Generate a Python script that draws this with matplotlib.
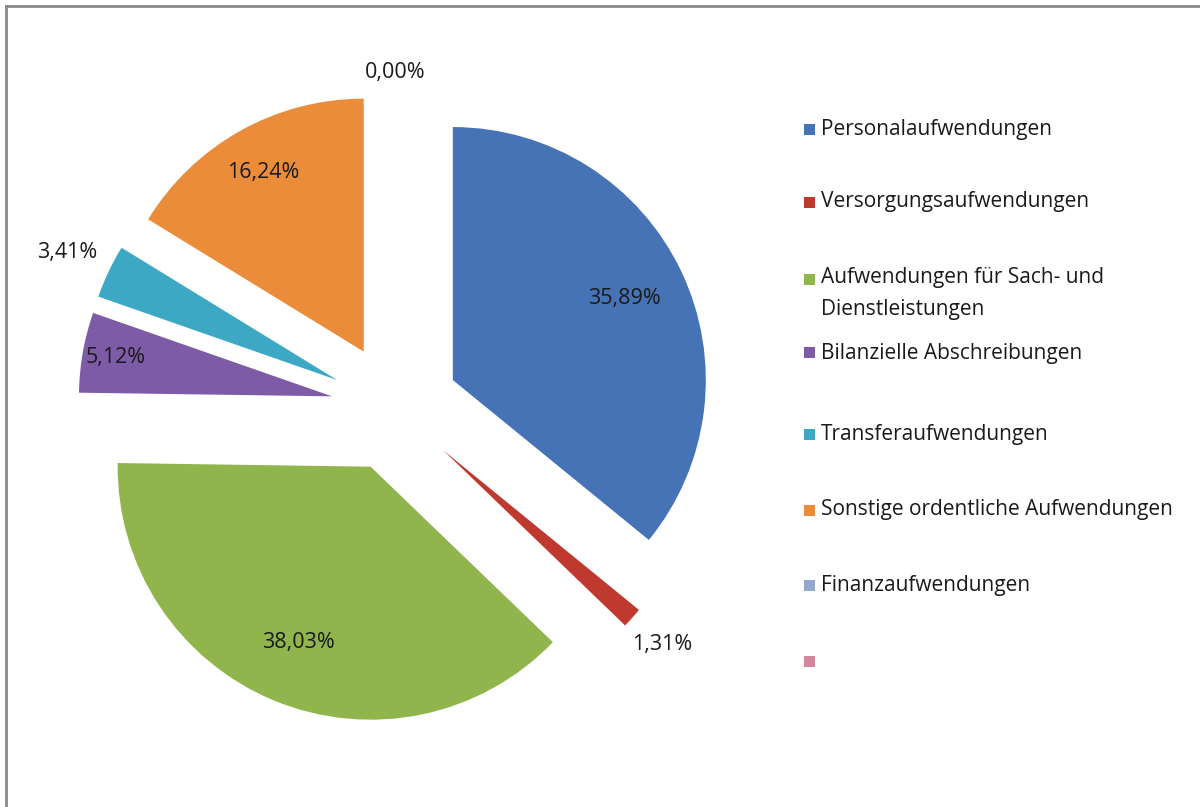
import matplotlib
matplotlib.use("Agg")
import matplotlib.pyplot as plt
import matplotlib.patches as mpatches
import numpy as np

categories = [
    "Personalaufwendungen",
    "Versorgungsaufwendungen",
    "Aufwendungen für Sach- und\nDienstleistungen",
    "Bilanzielle Abschreibungen",
    "Transferaufwendungen",
    "Sonstige ordentliche Aufwendungen",
    "Finanzaufwendungen",
    "",
]
values = [35.89, 1.31, 38.03, 5.12, 3.41, 16.24, 0.00, 0.00]
pct_labels = ["35,89%", "1,31%", "38,03%", "5,12%", "3,41%", "16,24%", "0,00%", ""]
colors = ["#4673B5", "#C0392F", "#8FB54C", "#7D5BA6", "#3DA8C4", "#EA8C3A",
          "#95A7CC", "#D3869C"]

plt.rcParams['font.family'] = ['Open Sans', 'DejaVu Sans']

W, H = 1200, 807
fig = plt.figure(figsize=(W / 100, H / 100), dpi=100)
ax = fig.add_axes([0, 0, 1, 1])

cx, cy = 395, H - 407.5
radius = 253
explode = [64] * len(values)

wedges, _ = ax.pie(values, colors=colors, startangle=90, counterclock=False,
                   radius=radius, center=(cx, cy), explode=explode,
                   wedgeprops=dict(linewidth=0))
ax.set_xlim(0, W)
ax.set_ylim(0, H)
ax.set_aspect('auto')
ax.axis('off')

# label distance factors (fraction of radius from each wedge's own centre)
label_dist = [0.75, 1.16, 0.75, 0.87, 1.18, 0.81, 1.07, 1.0]
for w, lab, d in zip(wedges, pct_labels, label_dist):
    if not lab:
        continue
    th = np.deg2rad((w.theta1 + w.theta2) / 2)
    x0, y0 = w.center
    ax.text(x0 + d * radius * np.cos(th), y0 + d * radius * np.sin(th), lab,
            ha='center', va='center', fontsize=15.5, color='#1a1a1a')

# border (left and top lines)
fig.add_artist(plt.Line2D([5.5 / W, 5.5 / W], [0, 1 - 6 / H], transform=fig.transFigure,
                          color='#8a8a8a', lw=2))
fig.add_artist(plt.Line2D([5.5 / W, 1], [1 - 6 / H, 1 - 6 / H], transform=fig.transFigure,
                          color='#8a8a8a', lw=2))

# legend
leg_y = [129, 202, 279, 353, 435, 510, 585, 661]
for lab, col, y in zip(categories, colors, leg_y):
    fig.add_artist(mpatches.Rectangle((804 / W, 1 - (y + 5.5) / H), 11 / W, 11 / H,
                                      transform=fig.transFigure, color=col, lw=0))
    if not lab:
        continue
    if '\n' in lab:
        fig.text(821 / W, 1 - (y - 12) / H, lab, ha='left', va='top',
                 fontsize=15, color='#1a1a1a', linespacing=1.7)
    else:
        fig.text(821 / W, 1 - y / H, lab, ha='left', va='center',
                 fontsize=15, color='#1a1a1a')

fig.savefig("out.png", dpi=100, facecolor='white')
